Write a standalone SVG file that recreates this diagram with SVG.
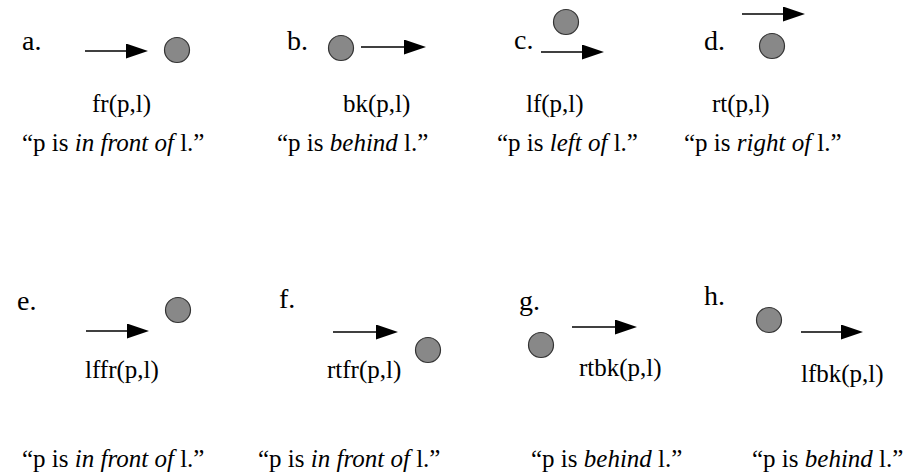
<svg xmlns="http://www.w3.org/2000/svg" width="908" height="475" viewBox="0 0 908 475">
<style>
.lab{font-size:28px}
.t{font-size:25px}
.i{font-style:italic}
.p{fill:#888;stroke:#333;stroke-width:1.2}
.ar{stroke:#000;stroke-width:1.3;fill:none;marker-end:url(#ah)}
</style>
<defs>
<marker id="ah" viewBox="0 0 22 15" refX="18" refY="7.5" markerWidth="22" markerHeight="15" markerUnits="userSpaceOnUse" orient="auto">
<path d="M0,0 L22,7.5 L0,15 z" fill="#000"/>
</marker>
</defs>
<rect width="908" height="475" fill="#fff"/>
<g font-family="'Liberation Serif', 'DejaVu Serif', serif" fill="#000">
<g id="a">
<text class="lab" x="22" y="50">a.</text>
<circle class="p" cx="177" cy="50" r="12.5"/>
<text class="t" x="92" y="112">fr(p,l)</text>
<text class="t" x="22" y="151">“p is <tspan class="i">in front of</tspan> l.”</text>
</g>
<g id="b">
<text class="lab" x="287" y="50">b.</text>
<circle class="p" cx="341" cy="48" r="12.5"/>
<text class="t" x="343" y="112">bk(p,l)</text>
<text class="t" x="277" y="151">“p is <tspan class="i">behind</tspan> l.”</text>
</g>
<g id="c">
<text class="lab" x="514" y="49">c.</text>
<circle class="p" cx="566" cy="22" r="12.5"/>
<text class="t" x="526" y="112">lf(p,l)</text>
<text class="t" x="497" y="151">“p is <tspan class="i">left of</tspan> l.”</text>
</g>
<g id="d">
<text class="lab" x="704" y="50">d.</text>
<circle class="p" cx="772" cy="46" r="12.5"/>
<text class="t" x="712" y="112">rt(p,l)</text>
<text class="t" x="684" y="151">“p is <tspan class="i">right of</tspan> l.”</text>
</g>
<g id="e">
<text class="lab" x="17" y="310">e.</text>
<circle class="p" cx="178" cy="310" r="12.5"/>
<text class="t" x="85" y="378">lffr(p,l)</text>
<text class="t" x="22" y="467">“p is <tspan class="i">in front of</tspan> l.”</text>
</g>
<g id="f">
<text class="lab" x="279" y="308">f.</text>
<circle class="p" cx="428" cy="350" r="12.5"/>
<text class="t" x="327" y="378">rtfr(p,l)</text>
<text class="t" x="258" y="467">“p is <tspan class="i">in front of</tspan> l.”</text>
</g>
<g id="g">
<text class="lab" x="519" y="310">g.</text>
<circle class="p" cx="541" cy="345" r="12.5"/>
<text class="t" x="579" y="376">rtbk(p,l)</text>
<text class="t" x="531" y="467">“p is <tspan class="i">behind</tspan> l.”</text>
</g>
<g id="h">
<text class="lab" x="704" y="305">h.</text>
<circle class="p" cx="769" cy="320" r="12.5"/>
<text class="t" x="801" y="382">lfbk(p,l)</text>
<text class="t" x="752" y="467">“p is <tspan class="i">behind</tspan> l.”</text>
</g>
</g>
<g id="arrows">
<line class="ar" x1="85" y1="51" x2="144" y2="51"/>
<line class="ar" x1="361" y1="47" x2="422" y2="47"/>
<line class="ar" x1="541" y1="52" x2="600" y2="52"/>
<line class="ar" x1="742" y1="14" x2="801" y2="14"/>
<line class="ar" x1="86" y1="331" x2="145" y2="331"/>
<line class="ar" x1="333" y1="332" x2="394" y2="332"/>
<line class="ar" x1="572" y1="327" x2="633" y2="327"/>
<line class="ar" x1="801" y1="332" x2="859" y2="332"/>
</g>
</svg>
